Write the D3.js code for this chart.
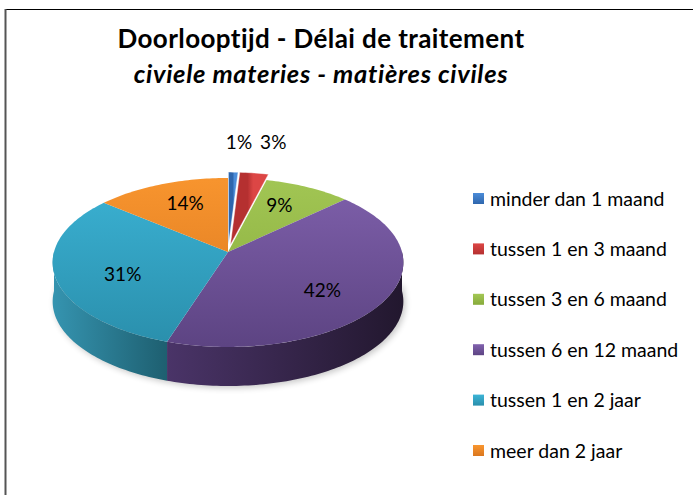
<!DOCTYPE html>
<html>
<head>
<meta charset="utf-8">
<script src="https://cdn.jsdelivr.net/npm/d3@7"></script>
<style>
  body { margin: 0; background: #fff; }
  svg { display: block; font-family: Lato, 'Open Sans', sans-serif; }
</style>
</head>
<body>
<svg id="chart" width="693" height="495"></svg>
<script>
// data
const categories = ['minder dan 1 maand', 'tussen 1 en 3 maand', 'tussen 3 en 6 maand',
  'tussen 6 en 12 maand', 'tussen 1 en 2 jaar', 'meer dan 2 jaar'];
const shares = [1, 3, 9, 42, 31, 14];
const exploded = [true, true, false, false, false, false];
const titleText = 'Doorlooptijd - Délai de traitement';
const subtitleText = 'civiele materies - matières civiles';

// top colour (light, dark) and side colour (left, right) per slice
const topColors = [['#4b8cd8', '#2e66ad'], ['#dc4645', '#b53030'], ['#a3c755', '#87ab3b'],
  ['#8162ae', '#5d4483'], ['#3cb4d6', '#2a8fac'], ['#f9962f', '#da771f']];
const sideColors = [['#2c5f9e', '#1d3f6a'], ['#9b2a2a', '#6a1c1c'], ['#6f8e2c', '#4b611d'],
  ['#4a3468', '#22172e'], ['#3594b0', '#1e5f70'], ['#c46a1a', '#8a4a12']];

const svg = d3.select('#chart');
const defs = svg.append('defs');

// frame
svg.append('line').attr('x1', 5).attr('x2', 693).attr('y1', 9.5).attr('y2', 9.5)
  .attr('stroke', '#000').attr('stroke-width', 1);
svg.append('line').attr('x1', 5.5).attr('x2', 5.5).attr('y1', 9).attr('y2', 495)
  .attr('stroke', '#555').attr('stroke-width', 2);

// titles
svg.append('text').attr('x', 321).attr('y', 48).attr('text-anchor', 'middle')
  .attr('font-size', 26).attr('font-weight', 'bold').attr('letter-spacing', 0.4).attr('fill', '#000')
  .text(titleText);
svg.append('text').attr('x', 321).attr('y', 83).attr('text-anchor', 'middle')
  .attr('font-size', 25.5).attr('font-style', 'italic').attr('font-weight', 'bold')
  .attr('letter-spacing', 0.7).attr('fill', '#000')
  .text(subtitleText);

// 3d pie geometry (perspective disc)
const cx = 228, cy = 252, rx = 174, ry = 83.2, persp = 0.124, depth = 39, explode = 0.09;

function project(u, v) {
  const w = 1 + persp * v;
  return [cx + rx * u / w, cy - ry * v / w];
}

const arcs = d3.pie().sort(null).value(d => d)(shares);
arcs.forEach((a, i) => {
  const mid = (a.startAngle + a.endAngle) / 2;
  const e = exploded[i] ? explode : 0;
  a.ou = e * Math.sin(mid);
  a.ov = e * Math.cos(mid);
  a.mid = mid;
});

function rimPoints(a, t0, t1, r) {
  const n = Math.max(2, Math.ceil((t1 - t0) / 0.02));
  return d3.range(n + 1).map(j => {
    const t = t0 + (t1 - t0) * j / n;
    return project(a.ou + r * Math.sin(t), a.ov + r * Math.cos(t));
  });
}

const line = d3.line();

// gradients
topColors.forEach((c, i) => {
  const g = defs.append('linearGradient').attr('id', 'top' + i);
  if (exploded[i]) {
    g.attr('x1', 0).attr('y1', 0).attr('x2', 1).attr('y2', 0);
    g.append('stop').attr('offset', '0%').attr('stop-color', c[1]);
    g.append('stop').attr('offset', '45%').attr('stop-color', c[1]);
    g.append('stop').attr('offset', '60%').attr('stop-color', c[0]);
    g.append('stop').attr('offset', '100%').attr('stop-color', c[0]);
  } else {
    g.attr('gradientUnits', 'userSpaceOnUse')
      .attr('x1', 0).attr('y1', cy - ry).attr('x2', 0).attr('y2', cy + ry + 10);
    g.append('stop').attr('offset', '0%').attr('stop-color', c[0]);
    g.append('stop').attr('offset', '100%').attr('stop-color', c[1]);
  }
  const s = defs.append('linearGradient').attr('id', 'side' + i)
    .attr('x1', 0).attr('y1', 0).attr('x2', 1).attr('y2', 0);
  s.append('stop').attr('offset', '0%').attr('stop-color', sideColors[i][0]);
  s.append('stop').attr('offset', '100%').attr('stop-color', sideColors[i][1]);
  const l = defs.append('linearGradient').attr('id', 'leg' + i)
    .attr('x1', 0).attr('y1', 0).attr('x2', 0).attr('y2', 1);
  l.append('stop').attr('offset', '0%').attr('stop-color', c[0]);
  l.append('stop').attr('offset', '100%').attr('stop-color', c[1]);
});

// soft shadow under the disc
defs.append('filter').attr('id', 'blur').attr('x', '-20%').attr('y', '-20%')
  .attr('width', '140%').attr('height', '140%')
  .append('feGaussianBlur').attr('stdDeviation', 3);
const pieG = svg.append('g');
const full = {ou: 0, ov: 0};
const shadowPts = rimPoints(full, Math.PI / 2, Math.PI * 1.5, 1.0)
  .map(p => [p[0] + 2, p[1] + depth + 2]);
pieG.append('path')
  .attr('d', line(shadowPts.concat(rimPoints(full, Math.PI * 1.5, Math.PI / 2, 1.0).map(p => [p[0] + 2, p[1] + depth - 6]))) + 'Z')
  .attr('fill', '#000').attr('opacity', 0.22).attr('filter', 'url(#blur)');

// outer walls (only the front half is visible)
arcs.forEach((a, i) => {
  const t0 = Math.max(a.startAngle, Math.PI / 2), t1 = Math.min(a.endAngle, Math.PI * 1.5);
  if (t1 <= t0) return;
  const top = rimPoints(a, t0, t1, 1);
  const bottom = top.map(p => [p[0], p[1] + depth]).reverse();
  pieG.append('path').attr('d', line(top.concat(bottom)) + 'Z')
    .attr('fill', 'url(#side' + i + ')');
});

// top faces: pulled-out slices first, they sit behind
const order = d3.range(arcs.length).sort((p, q) => (exploded[q] ? 1 : 0) - (exploded[p] ? 1 : 0));
order.forEach(i => {
  const a = arcs[i];
  const pts = [project(a.ou, a.ov)].concat(rimPoints(a, a.startAngle, a.endAngle, 1));
  pieG.append('path').attr('d', line(pts) + 'Z')
    .attr('fill', 'url(#top' + i + ')')
    .attr('stroke', exploded[i] ? 'rgba(255,255,255,0.5)' : 'none').attr('stroke-width', 0.8);
});

// data labels
const pct = d3.format('.0f');
let outsideX = null;
arcs.forEach((a, i) => {
  const label = pct(a.value) + '%';
  const t = svg.append('text').attr('font-size', 19).attr('fill', '#000').text(label);
  if (exploded[i]) {
    // small slices get their label above the disc, side by side
    const p = project(Math.sin(a.mid), Math.cos(a.mid));
    const x = outsideX === null ? p[0] - 7 : outsideX;
    t.attr('x', x).attr('y', cy - ry - 20);
    outsideX = x + t.node().getComputedTextLength() + 8;
  } else {
    const r = 0.6, v = Math.cos(a.mid), u = Math.sin(a.mid);
    const p = project(r * u, r * v);
    t.attr('x', p[0] + 3 * u).attr('y', p[1] + 4 - 12 * v + 7).attr('text-anchor', 'middle');
  }
});

// legend
const legY = d3.scalePoint().domain(categories).range([199, 451]);
const leg = svg.append('g').selectAll('g').data(categories).join('g')
  .attr('transform', d => `translate(473,${legY(d)})`);
leg.append('rect').attr('x', 0).attr('y', -6).attr('width', 11).attr('height', 11)
  .attr('fill', (d, i) => `url(#leg${i})`);
leg.append('text').attr('x', 17).attr('y', 6.5).attr('font-size', 19.5).attr('fill', '#000')
  .text(d => d);
</script>
</body>
</html>
